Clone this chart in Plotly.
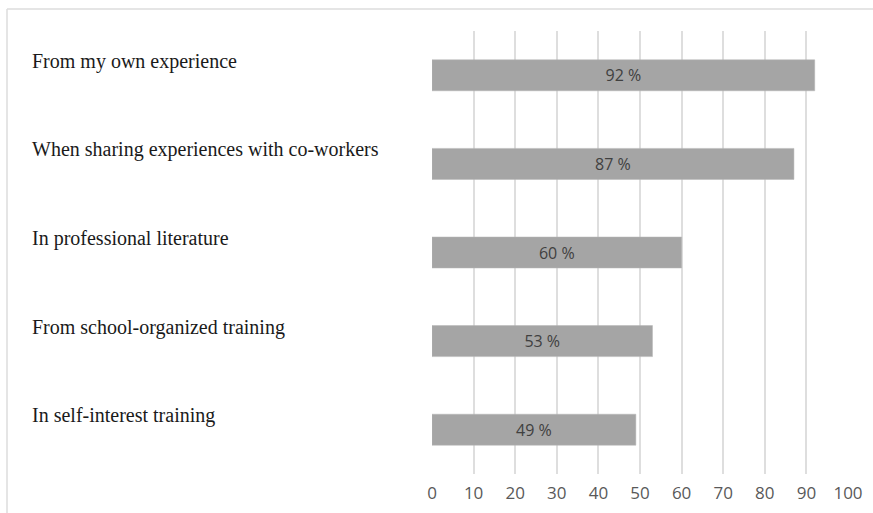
import plotly.graph_objects as go

categories = [
    "From my own experience",
    "When sharing experiences with co-workers",
    "In professional literature",
    "From school-organized training",
    "In self-interest training",
]
values = [92, 87, 60, 53, 49]
x_ticks = [0, 10, 20, 30, 40, 50, 60, 70, 80, 90, 100]

W, H = 873, 513
L, R, T, B = 432, 25, 31, 39
plot_w = W - L - R
plot_h = H - T - B

fig = go.Figure()
fig.add_trace(go.Bar(
    x=values,
    y=categories,
    orientation="h",
    width=0.35,
    marker=dict(color="#A5A5A5", line=dict(color="#B5B5B5", width=0.5)),
    text=[f"{v} %" for v in values],
    textposition="inside",
    insidetextanchor="middle",
    textfont=dict(family="Open Sans", size=16, color="#404040"),
    hoverinfo="skip",
))

# category captions sit left-aligned above each bar
for c in categories:
    fig.add_annotation(
        x=(30 - L) / plot_w, xref="paper",
        y=c, yref="y",
        text=c, showarrow=False,
        xanchor="left", yanchor="middle",
        yshift=14,
        font=dict(family="Liberation Serif", size=20, color="#1a1a1a"),
    )

# light frame along the top and left edges
gray = "#DDDDDD"
top_y = (H - B - 9) / plot_h
left_x = (7 - L) / plot_w
fig.add_shape(type="line", xref="paper", yref="paper",
              x0=left_x, x1=(W - L) / plot_w + 0.05, y0=top_y, y1=top_y,
              line=dict(color=gray, width=1.5))
fig.add_shape(type="line", xref="paper", yref="paper",
              x0=left_x, x1=left_x, y0=top_y, y1=-B / plot_h - 0.05,
              line=dict(color=gray, width=1.5))

fig.update_layout(
    width=W, height=H,
    margin=dict(l=L, r=R, t=T, b=B, autoexpand=False),
    paper_bgcolor="white", plot_bgcolor="white",
    showlegend=False,
    bargap=0.65,
    xaxis=dict(
        range=[0, 100], tickmode="array", tickvals=x_ticks,
        showgrid=True, gridcolor="#DEDEDE", gridwidth=1.5,
        zeroline=False, showline=False, ticks="",
        tickfont=dict(family="Open Sans", size=17, color="#595959"),
        ticklabelstandoff=7, automargin=False,
        fixedrange=True,
    ),
    yaxis=dict(
        categoryorder="array", categoryarray=categories,
        autorange="reversed", automargin=False,
        showticklabels=False, showgrid=False, zeroline=False,
        showline=False, ticks="", fixedrange=True,
    ),
)

fig.write_html("out.html")
